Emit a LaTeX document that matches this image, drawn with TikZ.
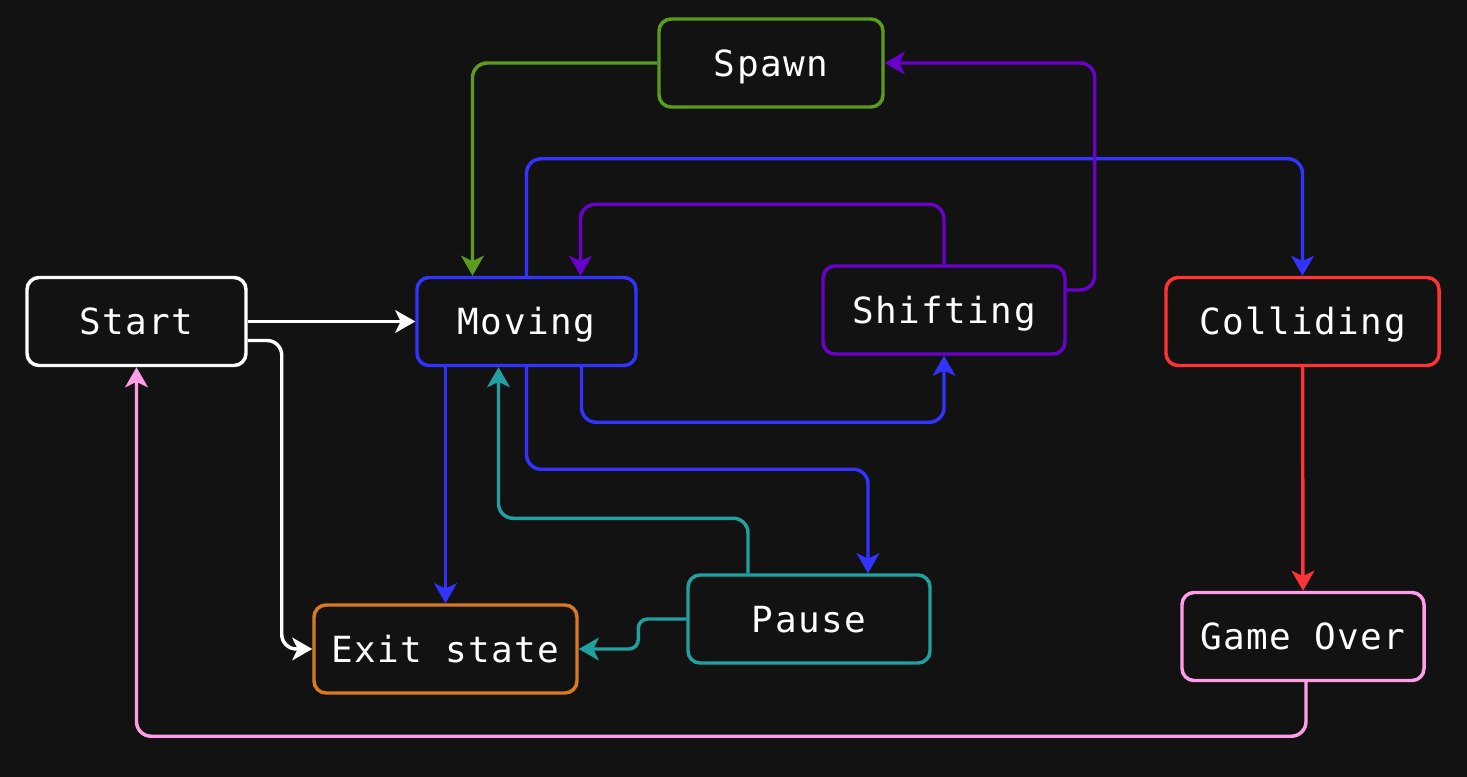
\documentclass[tikz,border=0pt]{standalone}
\usepackage{fontspec}
\newfontfamily\mono[LetterSpace=4]{DejaVu Sans Mono}
\usetikzlibrary{arrows.meta,calc}
\definecolor{bg}{HTML}{121212}
\definecolor{cblue}{HTML}{3333FF}
\definecolor{cpurple}{HTML}{6A00CC}
\definecolor{cgreen}{HTML}{5C9C1C}
\definecolor{cteal}{HTML}{20A0A0}
\definecolor{cred}{HTML}{FF3333}
\definecolor{corange}{HTML}{D87A20}
\definecolor{cpink}{HTML}{FF9DE8}
\tikzset{
  state/.style={draw, line width=2.6pt, rounded corners=9pt, fill=bg, text=white,
    font=\mono\fontsize{27}{31}\selectfont, minimum height=88*0.75pt, inner sep=0pt,
    text height=22pt, text depth=2.3pt},
  conn/.style={line width=2.6pt, rounded corners=11pt,
    -{Stealth[length=15pt,width=17pt,inset=4pt]}},
}
\begin{document}
\begin{tikzpicture}[x=0.75pt,y=-0.75pt]
\path[fill=bg] (0,0) rectangle (1467,777);
\useasboundingbox (0,0) rectangle (1467,777);
% nodes
\node[state, draw=white, minimum width=219*0.75pt] (start) at (136.5,321.5) {Start};
\node[state, draw=cblue, minimum width=219*0.75pt] (moving) at (526.5,321.5) {Moving};
\node[state, draw=cpurple, minimum width=242*0.75pt] (shifting) at (944,310) {Shifting};
\node[state, draw=cred, minimum width=273*0.75pt] (colliding) at (1302.5,321.5) {Colliding};
\node[state, draw=cgreen, minimum width=224*0.75pt] (spawn) at (771,63) {Spawn};
\node[state, draw=corange, minimum width=263*0.75pt] (exit) at (445.5,649) {Exit state};
\node[state, draw=cteal, minimum width=242*0.75pt] (pause) at (809,619) {Pause};
\node[state, draw=cpink, minimum width=242*0.75pt] (gameover) at (1303,636.5) {Game Over};
% connectors
\draw[conn, white] (start.east) -- (moving.west);
\draw[conn, white] ($(start.east)+(0,19)$) -- ++(34,0) |- (exit.west);
\draw[conn, cblue] (moving.south -| exit.north) -- (exit.north);
\draw[conn, cblue] ($(moving.south)+(55,0)$) -- ++(0,55) -| (shifting.south);
\draw[conn, cblue] (moving.south) -- ++(0,102) -| ($(pause.north)+(59,0)$);
\draw[conn, cblue] (moving.north) -- ++(0,-117) -| (colliding.north);
\draw[conn, cgreen] (spawn.west) -| ($(moving.north)+(-54,0)$);
\draw[conn, cpurple] (shifting.north) -- ++(0,-60) -| ($(moving.north)+(54,0)$);
\draw[conn, cpurple] ($(shifting.east)+(0,-20)$) -- ++(28,0) |- (spawn.east);
\draw[conn, cteal] ($(pause.north)+(-61,0)$) -- ++(0,-55) -| ($(moving.south)+(-28,0)$);
\draw[conn, cteal, rounded corners=7pt] (pause.west) -- ++(-48,0) |- (exit.east);
\draw[conn, cred] (colliding.south) -- (gameover.north);
\draw[conn, cpink] ($(gameover.south)+(3,0)$) -- ++(0,54) -| (start.south);
\end{tikzpicture}
\end{document}
